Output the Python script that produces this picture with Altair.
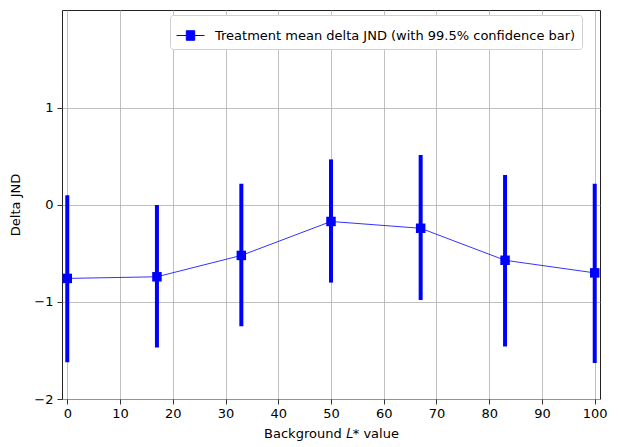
import altair as alt
import pandas as pd

x_vals = [0, 17, 33, 50, 67, 83, 100]
mean_vals = [-0.757, -0.74, -0.52, -0.17, -0.24, -0.57, -0.70]
upper_vals = [0.10, 0.0, 0.22, 0.47, 0.515, 0.31, 0.22]
lower_vals = [-1.62, -1.47, -1.25, -0.80, -0.98, -1.46, -1.63]
series_label = "Treatment mean delta JND (with 99.5% confidence bar)"

df = pd.DataFrame({
    "x": x_vals,
    "mean": mean_vals,
    "lo": lower_vals,
    "hi": upper_vals,
    "series": [series_label] * len(x_vals),
})

FONT = "DejaVu Sans"
BLUE = "#0000ff"

xscale = alt.Scale(domain=[-1, 101], nice=False, zero=False)
yscale = alt.Scale(domain=[-2, 2.01], nice=False, zero=False)

xaxis = alt.Axis(values=list(range(0, 101, 10)), title="Background \U0001D43F* value",
                 grid=True, domain=False, tickSize=5, labelPadding=3,
                 titlePadding=7, labelFlush=False, format="d")
yaxis = alt.Axis(values=[-2, -1, 0, 1], title="Delta JND", grid=True,
                 domain=False, tickSize=5, labelPadding=4, titlePadding=11,
                 format="d",
                 labelExpr="replace(datum.label, '-', '\u2212')")

base = alt.Chart(df)

bars = base.mark_rule(color=BLUE, strokeWidth=4).encode(
    x=alt.X("x:Q", scale=xscale, axis=xaxis),
    y=alt.Y("lo:Q", scale=yscale, axis=yaxis),
    y2="hi:Q",
)

line = base.mark_line(color=BLUE, strokeWidth=1, opacity=0.8).encode(
    x=alt.X("x:Q", scale=xscale),
    y=alt.Y("mean:Q", scale=yscale),
)

points = base.mark_square(size=90, opacity=1, filled=True).encode(
    x=alt.X("x:Q", scale=xscale),
    y=alt.Y("mean:Q", scale=yscale),
    color=alt.Color(
        "series:N",
        scale=alt.Scale(domain=[series_label], range=[BLUE]),
        legend=alt.Legend(
            title=None,
            orient="none",
            legendX=108,
            legendY=5,
            symbolType="M-1,0H1M-0.3,-0.34H0.3V0.34H-0.3Z",
            symbolSize=784,
            symbolStrokeColor=BLUE,
            symbolFillColor=BLUE,
            symbolStrokeWidth=1,
            symbolOpacity=1,
            labelFontSize=13,
            labelFont=FONT,
            labelColor="black",
            labelLimit=1000,
            fillColor="white",
            strokeColor="#d0d0d0",
            cornerRadius=3,
            padding=6,
            labelOffset=10,
        ),
    ),
)

chart = alt.layer(bars, line, points).properties(
    width=538,
    height=389,
    autosize=alt.AutoSizeParams(type="none"),
    padding={"left": 54, "top": 2, "right": 10, "bottom": 46},
).configure_view(
    stroke="#222222", strokeWidth=1
).configure_axis(
    labelFont=FONT, titleFont=FONT, labelFontSize=13, titleFontSize=13,
    labelColor="black", titleColor="black", titleFontWeight="normal",
    gridColor="#b0b0b0", gridWidth=0.8, tickColor="black", tickWidth=0.8,
)

chart.save("out.html", embed_options={"renderer": "svg", "actions": False})
